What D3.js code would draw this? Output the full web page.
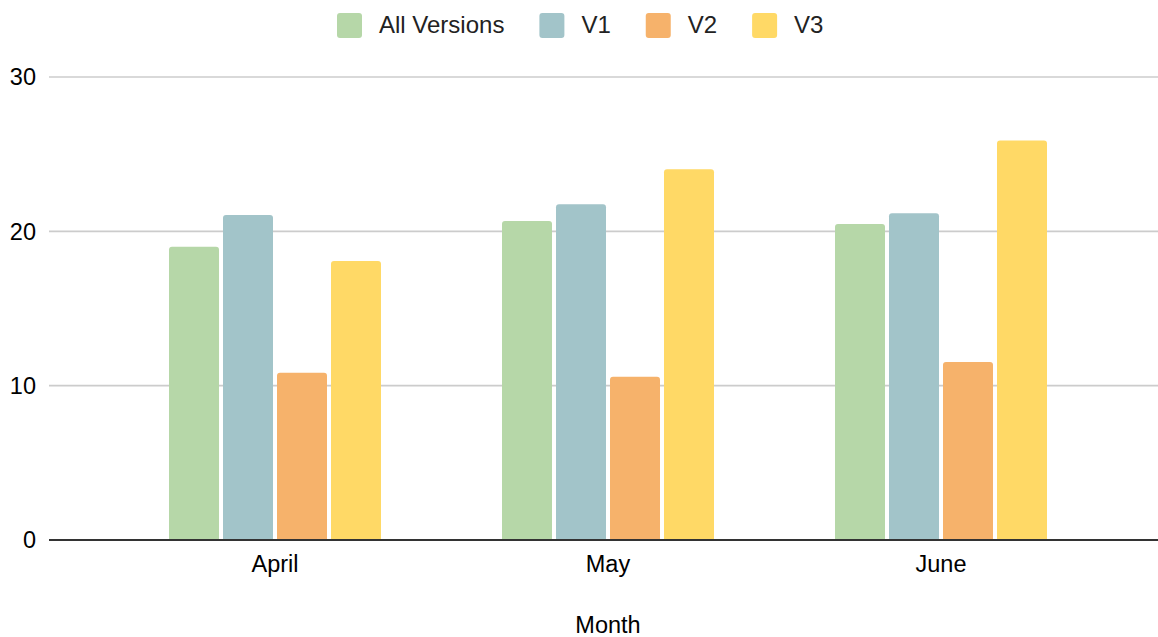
<!DOCTYPE html>
<html>
<head>
<meta charset="utf-8">
<script src="https://cdn.jsdelivr.net/npm/d3@7"></script>
<style>
  html, body { margin: 0; padding: 0; background: #fff; }
  svg { display: block; font-family: "Liberation Sans", Arial, Helvetica, sans-serif; }
</style>
</head>
<body>
<svg id="chart" width="1158" height="637"></svg>
<script>
const months = ["April", "May", "June"];
const seriesNames = ["All Versions", "V1", "V2", "V3"];
const allVersions = [19.0, 20.67, 20.48];
const v1 = [21.06, 21.76, 21.17];
const v2 = [10.84, 10.58, 11.54];
const v3 = [18.08, 24.02, 25.88];
const yTicks = [0, 10, 20, 30];
const colors = ["#b6d7a8", "#a2c4c9", "#f6b26b", "#ffd966"];
const xTitle = "Month";

const seriesValues = [allVersions, v1, v2, v3];
const data = months.map((m, i) => ({
  month: m,
  values: seriesNames.map((s, j) => ({ key: s, value: seriesValues[j][i] }))
}));

const svg = d3.select("#chart");
const fontSize = 23.5;
const legendFontSize = 24;

const x = d3.scaleBand().domain(months).range([108.5, 1107.5]).padding(0);
const groupW = 212;
const xs = d3.scaleBand().domain(seriesNames).range([0, groupW]).paddingInner(4 / 54).paddingOuter(0);
const y = d3.scaleLinear().domain([0, 30]).range([540, 77]);
const color = d3.scaleOrdinal().domain(seriesNames).range(colors);

// gridlines
svg.append("g")
  .selectAll("line")
  .data(yTicks.filter(t => t !== 0))
  .join("line")
  .attr("x1", 49).attr("x2", 1158)
  .attr("y1", d => y(d)).attr("y2", d => y(d))
  .attr("stroke", "#cccccc").attr("stroke-width", 1.6);

// y labels
svg.append("g")
  .selectAll("text")
  .data(yTicks)
  .join("text")
  .attr("x", 36)
  .attr("y", d => y(d))
  .attr("dy", "0.36em")
  .attr("text-anchor", "end")
  .attr("font-size", fontSize)
  .attr("fill", "#000")
  .text(d => d);

function topRounded(x0, y0, w, h, r) {
  r = Math.min(r, h, w / 2);
  return `M${x0},${y0 + h}V${y0 + r}Q${x0},${y0} ${x0 + r},${y0}H${x0 + w - r}Q${x0 + w},${y0} ${x0 + w},${y0 + r}V${y0 + h}Z`;
}

// bars
const groups = svg.append("g")
  .selectAll("g")
  .data(data)
  .join("g")
  .attr("transform", d => `translate(${x(d.month) + (x.bandwidth() - groupW) / 2},0)`);

groups.selectAll("path")
  .data(d => d.values)
  .join("path")
  .attr("fill", d => color(d.key))
  .attr("d", d => topRounded(xs(d.key), y(d.value), xs.bandwidth(), y(0) - y(d.value), 3));

// baseline axis
svg.append("line")
  .attr("x1", 49).attr("x2", 1158)
  .attr("y1", y(0)).attr("y2", y(0))
  .attr("stroke", "#333333").attr("stroke-width", 2);

// x labels
svg.append("g")
  .selectAll("text")
  .data(months)
  .join("text")
  .attr("x", d => x(d) + x.bandwidth() / 2)
  .attr("y", 572)
  .attr("text-anchor", "middle")
  .attr("font-size", fontSize)
  .attr("fill", "#000")
  .text(d => d);

// x title
svg.append("text")
  .attr("x", 608)
  .attr("y", 633)
  .attr("text-anchor", "middle")
  .attr("font-size", fontSize)
  .attr("fill", "#000")
  .text(xTitle);

// legend
const legend = svg.append("g");
let lx = 337;
seriesNames.forEach((s, i) => {
  legend.append("rect")
    .attr("x", lx).attr("y", 13)
    .attr("width", 25).attr("height", 25)
    .attr("rx", 3).attr("ry", 3)
    .attr("fill", color(s));
  const t = legend.append("text")
    .attr("x", lx + 42).attr("y", 33)
    .attr("font-size", legendFontSize)
    .attr("fill", "#222")
    .text(s);
  const w = t.node().getComputedTextLength();
  lx = lx + 42 + w + 35;
});
</script>
</body>
</html>
